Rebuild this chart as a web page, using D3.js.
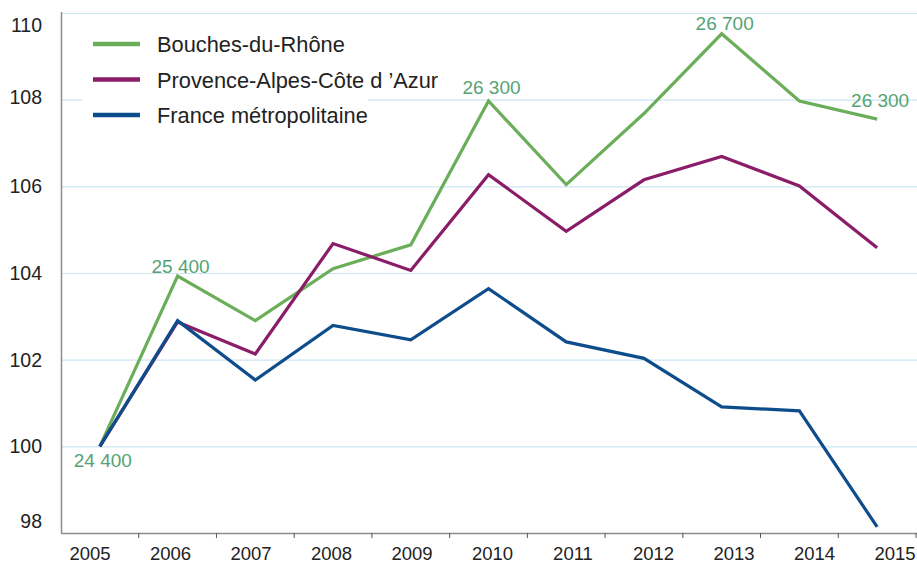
<!DOCTYPE html>
<html>
<head>
<meta charset="utf-8">
<script src="https://cdn.jsdelivr.net/npm/d3@7"></script>
<style>
  body { margin: 0; background: #fff; }
  text { font-family: "Liberation Sans", Arial, sans-serif; }
</style>
</head>
<body>
<div class="chart"></div>
<script>
var width = 917;
var height = 563;

// données (indice base 100 en 2005)
var years = ['2005','2006','2007','2008','2009','2010','2011','2012','2013','2014','2015'];
var bouches = [100, 103.93, 102.9, 104.1, 104.65, 107.97, 106.04, 107.68, 109.52, 107.97, 107.55];
var paca = [100, 102.87, 102.13, 104.68, 104.06, 106.27, 104.96, 106.15, 106.69, 106.01, 104.58];
var france = [100, 102.9, 101.53, 102.79, 102.46, 103.64, 102.41, 102.03, 100.91, 100.82, 98.14];
var seriesNames = ['Bouches-du-Rhône', 'Provence-Alpes-Côte d \u2019Azur', 'France métropolitaine'];
var yTicks = [98, 100, 102, 104, 106, 108, 110];
var labelYears = ['2005', '2006', '2010', '2013', '2015'];
var labelTexts = ['24 400', '25 400', '26 300', '26 700', '26 300'];

var colors = ['#6bae5a', '#8a1c68', '#0e4d8c'];
var series = [bouches, paca, france];

var svg = d3.select('.chart')
	.append('svg')
	.attr('width', width)
	.attr('height', height);

var x = d3.scaleBand().domain(years).range([61, 916]);
var xLab = d3.scalePoint().domain(years).range([90, 895]);
var y = d3.scaleLinear().domain([98, 110]).range([533, 13]);

// grille
svg.selectAll('.grid')
	.data(yTicks.filter(function(d){ return d > 98; }))
	.enter().append('line')
	.attr('class', 'grid')
	.attr('x1', 61).attr('x2', 917)
	.attr('y1', function(d){ return y(d) + 0.5; })
	.attr('y2', function(d){ return y(d) + 0.5; })
	.attr('stroke', '#cde6f5')
	.attr('stroke-width', 1.2);

// étiquettes de l'axe vertical
svg.selectAll('.ylab')
	.data(yTicks)
	.enter().append('text')
	.attr('class', 'ylab')
	.attr('x', 42)
	.attr('y', function(d){
		var yy = y(d);
		if (yy < 25) yy = 25;
		if (yy > 521) yy = 521;
		if (d == 108) yy -= 3;
		return yy + 7;
	})
	.attr('text-anchor', 'end')
	.attr('font-size', '19.5px')
	.attr('fill', '#222')
	.text(function(d){ return d; });

// axes
svg.append('line')
	.attr('x1', 61.5).attr('x2', 61.5)
	.attr('y1', 12).attr('y2', 533)
	.attr('stroke', '#8c8c8c').attr('stroke-width', 1.5);

var xAxis = svg.append('g')
	.attr('transform', 'translate(0,533)');
xAxis.append('line')
	.attr('x1', 61).attr('x2', 917)
	.attr('y1', 0.5).attr('y2', 0.5)
	.attr('stroke', '#8c8c8c').attr('stroke-width', 1.5);
xAxis.selectAll('.tick')
	.data(years.slice(1).concat(['end']))
	.enter().append('line')
	.attr('class', 'tick')
	.attr('x1', function(d){ return d == 'end' ? 916 : x(d); })
	.attr('x2', function(d){ return d == 'end' ? 916 : x(d); })
	.attr('y1', 0).attr('y2', 5)
	.attr('stroke', '#555').attr('stroke-width', 1);
xAxis.selectAll('.xlab')
	.data(years)
	.enter().append('text')
	.attr('class', 'xlab')
	.attr('x', function(d){ return xLab(d); })
	.attr('y', 27)
	.attr('text-anchor', 'middle')
	.attr('font-size', '18.5px')
	.attr('fill', '#222')
	.text(function(d){ return d; });

// courbes
var line = d3.line()
	.x(function(d, i){ return x(years[i]) + x.bandwidth() / 2; })
	.y(function(d){ return y(d); });

svg.selectAll('.serie')
	.data(series)
	.enter().append('path')
	.attr('class', 'serie')
	.attr('d', line)
	.attr('fill', 'none')
	.attr('stroke', function(d, i){ return colors[i]; })
	.attr('stroke-width', 3.2)
	.attr('stroke-linejoin', 'miter');

// valeurs en effectifs
var labelDy = [-1, -3, -7, -4, -12];
svg.selectAll('.val')
	.data(labelYears)
	.enter().append('text')
	.attr('class', 'val')
	.attr('x', function(d, i){
		return x(d) + x.bandwidth() / 2 + 3;
	})
	.attr('y', function(d, i){
		var v = bouches[years.indexOf(d)];
		return i == 0 ? y(v) + 21 : y(v) + labelDy[i];
	})
	.attr('text-anchor', 'middle')
	.attr('font-size', '19px')
	.attr('fill', '#55a375')
	.text(function(d, i){ return labelTexts[i]; });

// légende
var legend = svg.append('g');
legend.append('rect')
	.attr('x', 82).attr('y', 22)
	.attr('width', 286).attr('height', 112)
	.attr('fill', '#fff');
var items = legend.selectAll('.leg')
	.data(seriesNames)
	.enter().append('g')
	.attr('class', 'leg')
	.attr('transform', function(d, i){ return 'translate(0,' + (44 + i * 35.5) + ')'; });
items.append('line')
	.attr('x1', 93).attr('x2', 140)
	.attr('y1', 0).attr('y2', 0)
	.attr('stroke', function(d, i){ return colors[i]; })
	.attr('stroke-width', 4.5);
items.append('text')
	.attr('x', 157)
	.attr('y', 8)
	.attr('font-size', '21.8px')
	.attr('fill', '#222')
	.text(function(d){ return d; });
</script>
</body>
</html>
